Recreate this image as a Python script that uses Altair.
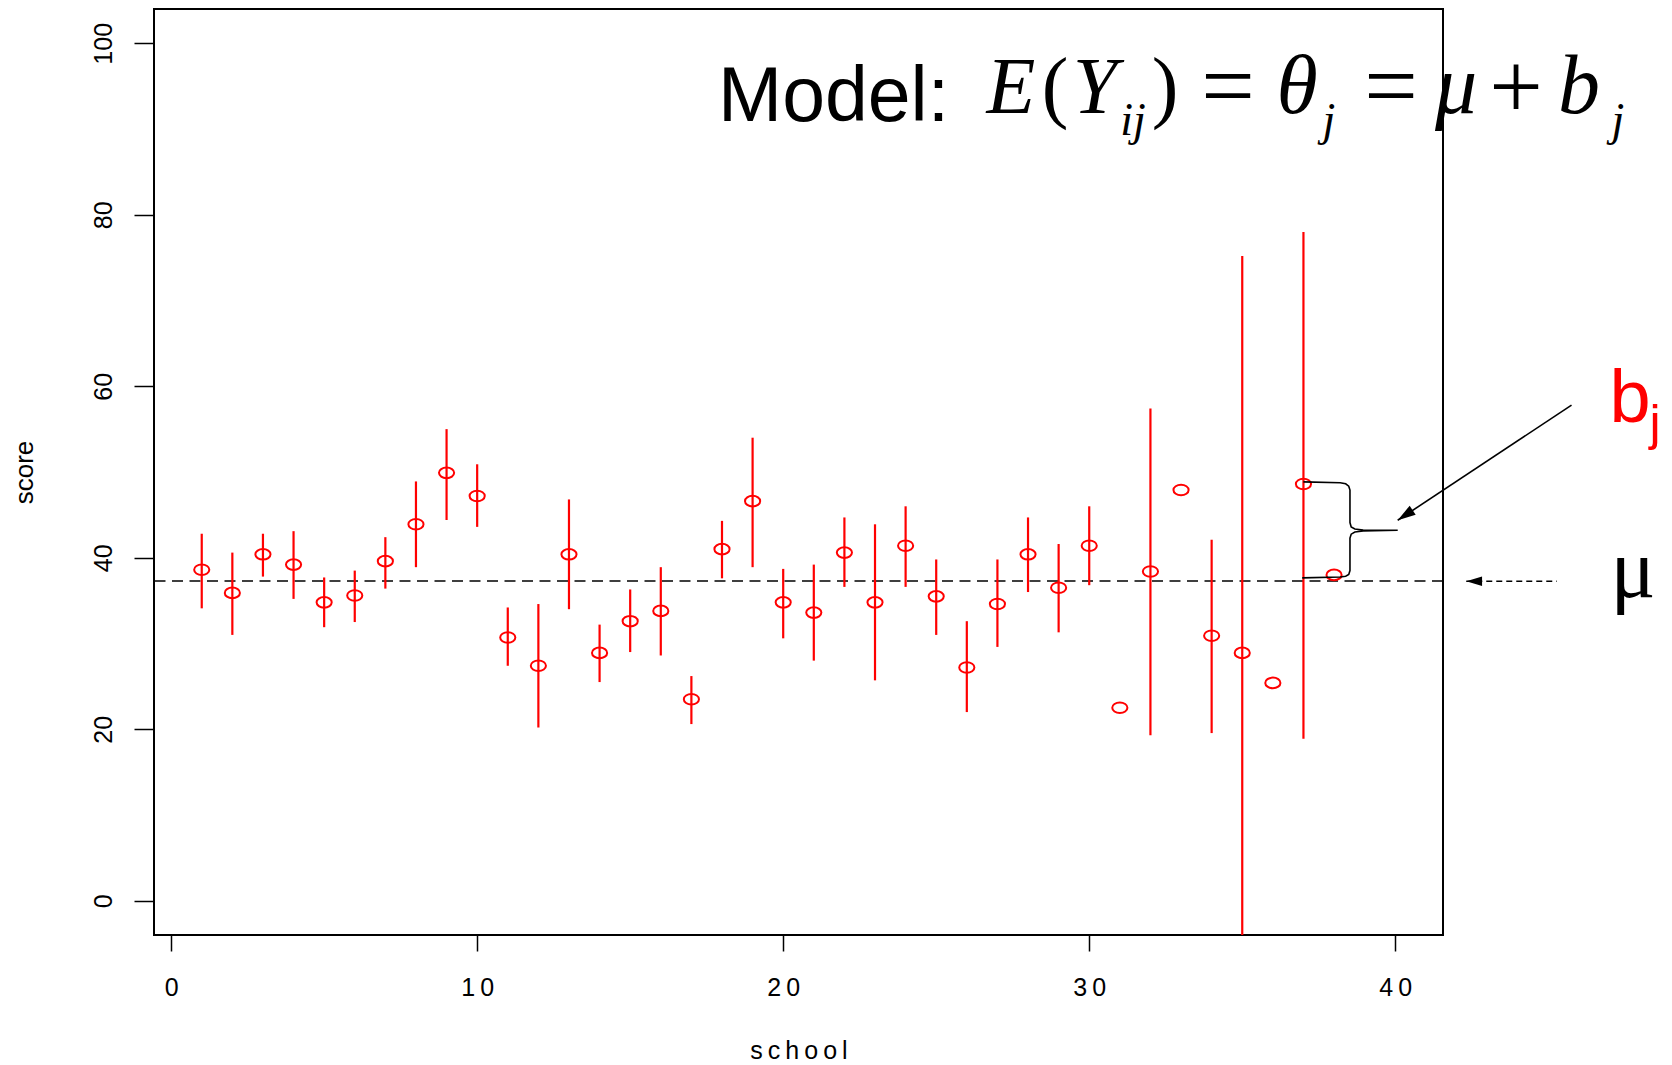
import altair as alt
import pandas as pd

# ---------------- data ----------------
schools = list(range(1, 39))
means = [38.6, 35.9, 40.4, 39.2, 34.8, 35.6, 39.6, 43.9, 49.9, 47.2,
         30.7, 27.4, 40.4, 28.9, 32.6, 33.8, 23.5, 41.0, 46.6, 34.8,
         33.6, 40.6, 34.8, 41.4, 35.5, 27.2, 34.6, 40.4, 36.5, 41.4,
         22.5, 38.4, 47.9, 30.9, 28.9, 25.4, 48.6, 38.0]
uppers = [42.8, 40.6, 42.8, 43.1, 37.7, 38.5, 42.4, 48.9, 55.0, 50.9,
          34.2, 34.6, 46.8, 32.2, 36.3, 38.9, 26.2, 44.3, 54.0, 38.7,
          39.2, 44.7, 43.9, 46.0, 39.8, 32.6, 39.8, 44.7, 41.6, 46.0,
          None, 57.4, None, 42.1, 75.2, None, 78.0, None]
lowers = [34.1, 31.0, 37.8, 35.2, 31.9, 32.5, 36.4, 38.9, 44.4, 43.6,
          27.4, 20.2, 34.0, 25.5, 29.0, 28.6, 20.6, 37.6, 38.9, 30.6,
          28.0, 36.6, 25.7, 36.6, 31.0, 22.0, 29.6, 36.0, 31.3, 36.8,
          None, 19.3, None, 19.55, -17.4, None, 18.9, None]
MU = 37.3

x_ticks = [0, 10, 20, 30, 40]
y_ticks = [0, 20, 40, 60, 80, 100]

# annotation geometry (data units)
brace_x = [37.00, 38.20, 38.38, 38.48, 38.52, 38.52, 38.56, 38.68, 38.95, 40.08,
           38.95, 38.68, 38.56, 38.52, 38.52, 38.48, 38.38, 38.20, 36.96]
brace_y = [48.85, 48.75, 48.62, 48.35, 47.90, 44.10, 43.60, 43.35, 43.22, 43.20,
           43.12, 43.00, 42.75, 42.30, 38.50, 38.05, 37.85, 37.75, 37.65]
arrow_x = [45.76, 40.08]
arrow_y = [57.8, 44.37]
mu_arrow_x = [45.28, 42.32]
mu_arrow_y = [37.25, 37.25]

# ---------------- tables ----------------
df = pd.DataFrame({"school": schools, "mean": means, "lower": lowers, "upper": uppers})
bars = df.dropna(subset=["upper"])
mu_df = pd.DataFrame({"mu": [MU]})
brace_df = pd.DataFrame({"x": brace_x, "y": brace_y, "o": list(range(len(brace_x)))})
arrow_df = pd.DataFrame({"x": arrow_x, "y": arrow_y})
arrow_tip = arrow_df.iloc[[1]]
mu_arrow_df = pd.DataFrame({"x": mu_arrow_x, "y": mu_arrow_y})
mu_arrow_tip = mu_arrow_df.iloc[[1]]
one = pd.DataFrame({"a": [0]})

W, H = 1289, 926
SANS = "Liberation Sans"
SERIF = "Liberation Serif"
RED = "#ff0000"

xscale = alt.Scale(domain=[-0.56, 41.56], nice=False, zero=False)
yscale = alt.Scale(domain=[-4, 104], nice=False, zero=False)

xaxis = alt.Axis(values=x_ticks, title="s\u2009c\u2009h\u2009o\u2009o\u2009l", grid=False, domain=False,
                 tickSize=16, tickWidth=1.5, tickColor="black",
                 labelFont=SANS, labelFontSize=25, labelColor="black", labelPadding=24,
                 labelBaseline="top", labelAlign="center", labelFlush=False, labelOverlap=False,
                 labelExpr="join(split(datum.label, ''), '\u2009')",
                 titleFont=SANS, titleFontSize=25, titleFontWeight="normal", titleColor="black",
                 titleX=W / 2, titleY=115, titleAlign="center", titleBaseline="middle")
yaxis = alt.Axis(values=y_ticks, title="score", grid=False, domain=False,
                 tickSize=20, tickWidth=1.5, tickColor="black",
                 labelFont=SANS, labelFontSize=25, labelColor="black", labelPadding=23,
                 labelAngle=270, labelAlign="center", labelBaseline="alphabetic",
                 labelFlush=False, labelOverlap=False,
                 titleFont=SANS, titleFontSize=26, titleFontWeight="normal", titleColor="black",
                 titleAngle=270, titleX=-130, titleY=H / 2, titleAlign="center", titleBaseline="middle")


def X(f):
    return alt.X(f, type="quantitative", scale=xscale, axis=xaxis)


def Y(f):
    return alt.Y(f, type="quantitative", scale=yscale, axis=yaxis)


ELLIPSE = "M-1,0A1,0.7,0,1,1,1,0A1,0.7,0,1,1,-1,0Z"
HEAD = "M0,0L0.3,1L-0.3,1Z"

rules = alt.Chart(bars).mark_rule(color=RED, strokeWidth=2.2, clip=True).encode(
    x=X("school"), y=Y("lower"), y2="upper")
points = alt.Chart(df).mark_point(shape=ELLIPSE, size=230, filled=False, color=RED,
                                  strokeWidth=2, opacity=1).encode(x=X("school"), y=Y("mean"))
mu_line = alt.Chart(mu_df).mark_rule(color="black", strokeWidth=1.5, strokeDash=[11, 6.5]).encode(
    y=Y("mu"))
brace = alt.Chart(brace_df).mark_line(color="black", strokeWidth=1.6, clip=False).encode(
    x=X("x"), y=Y("y"), order="o:Q")
arrow = alt.Chart(arrow_df).mark_line(color="black", strokeWidth=1.6, clip=False).encode(
    x=X("x"), y=Y("y"))
arrow_head = alt.Chart(arrow_tip).mark_point(shape=HEAD, size=1300, filled=True, color="black",
                                             opacity=1, angle=236, clip=False).encode(x=X("x"), y=Y("y"))
mu_arrow = alt.Chart(mu_arrow_df).mark_line(color="black", strokeWidth=1.6, strokeDash=[6, 4],
                                            clip=False).encode(x=X("x"), y=Y("y"))
mu_head = alt.Chart(mu_arrow_tip).mark_point(shape=HEAD, size=1000, filled=True, color="black",
                                             opacity=1, angle=270, clip=False).encode(x=X("x"), y=Y("y"))


def label(text, px, py, size, font=SANS, style="normal", color="black", align="center"):
    return alt.Chart(one).mark_text(text=text, font=font, fontSize=size, fontStyle=style,
                                    color=color, align=align, baseline="alphabetic").encode(
        x=alt.value(px), y=alt.value(py))


OX, OY = 154, 9  # plot origin in page pixels
MAIN_B, SUB_B, OP_B = 113 - OY, 135 - OY, 118 - OY
texts = [
    label("Model:", 718 - OX, 121 - OY, 77, align="left"),
    label("E", 1011 - OX, MAIN_B, 80, SERIF, "italic"),
    label("(", 1055 - OX, MAIN_B, 80, SERIF),
    label("Y", 1095 - OX, MAIN_B, 80, SERIF, "italic"),
    label("ij", 1133 - OX, SUB_B, 46, SERIF, "italic"),
    label(")", 1165 - OX, MAIN_B, 80, SERIF),
    label("=", 1228 - OX, OP_B, 95, SERIF),
    label("\u03b8", 1297 - OX, MAIN_B, 84, SERIF, "italic"),
    label("j", 1329 - OX, SUB_B, 46, SERIF, "italic"),
    label("=", 1391 - OX, OP_B, 95, SERIF),
    label("\u03bc", 1456 - OX, MAIN_B, 84, SERIF, "italic"),
    label("+", 1516 - OX, OP_B, 95, SERIF),
    label("b", 1579 - OX, MAIN_B, 84, SERIF, "italic"),
    label("j", 1618 - OX, SUB_B, 46, SERIF, "italic"),
    label("b", 1630 - OX, 422 - OY, 74, color=RED),
    label("j", 1655 - OX, 440 - OY, 50, color=RED),
    label("\u03bc", 1633 - OX, 597 - OY, 84, SERIF),
]

chart = alt.layer(mu_line, rules, points, brace, arrow, arrow_head, mu_arrow, mu_head, *texts).properties(
    width=W, height=H,
    autosize=alt.AutoSizeParams(type="none"),
    padding={"left": OX, "top": OY, "right": 1672 - OX - W, "bottom": 1065 - OY - H},
    background="white",
).configure_view(stroke="black", strokeWidth=2)

chart.save("out.html", embed_options={"renderer": "svg", "actions": False})
